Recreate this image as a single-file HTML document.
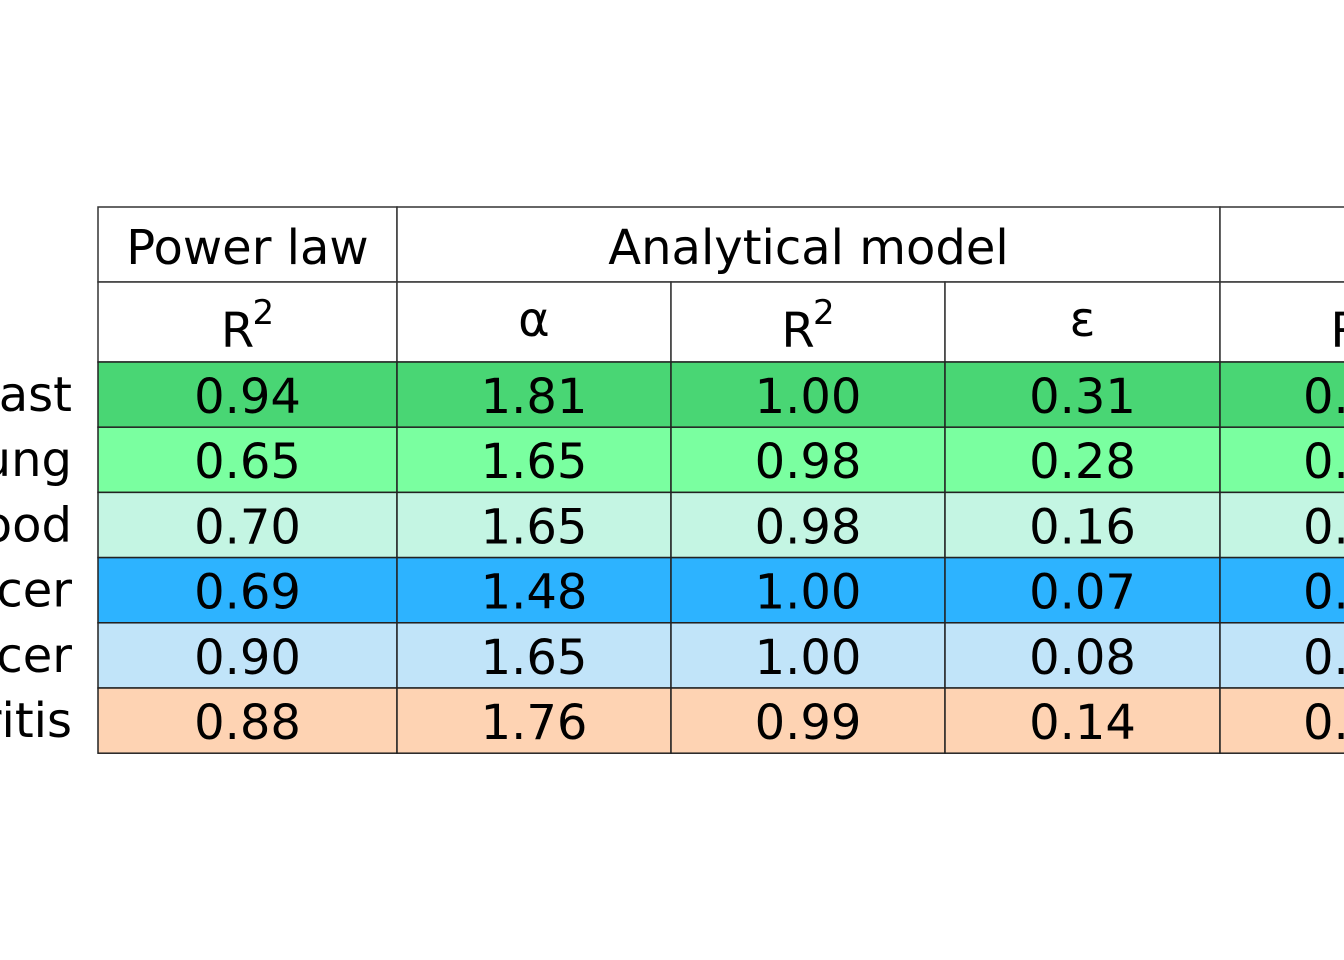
<!DOCTYPE html>
<html><head><meta charset="utf-8"><style>
html,body{margin:0;padding:0;background:#fff;width:1344px;height:960px;overflow:hidden}
svg text{font-family:"DejaVu Sans","Liberation Sans",sans-serif;fill:#000}
</style></head><body>
<svg id="tbl" width="1344" height="960" xmlns="http://www.w3.org/2000/svg"></svg>
<script>
const rowLabels=["Breast","Lung","Blood","Cancer","Cancer","Arthritis"];
const colHeaders=["R²","α","R²","ε","R²"];
const powerR2=["0.94","0.65","0.70","0.69","0.90","0.88"];
const alpha=["1.81","1.65","1.65","1.48","1.65","1.76"];
const modelR2=["1.00","0.98","0.98","1.00","1.00","0.99"];
const eps=["0.31","0.28","0.16","0.07","0.08","0.14"];
const lastCol=["0.","0.","0.","0.","0.","0."];
const rowColors=["#49d674","#7affa0","#c4f5e3","#2db3ff","#c1e4f9","#fed3b3"];
const svg=document.getElementById('tbl');
const NS="http://www.w3.org/2000/svg";
const colX=[98,397,671,945,1220,1494];
const headTop=207,head2=282,dataTop=362,rowH=65.2;
function mk(tag,attrs){const e=document.createElementNS(NS,tag);for(const k in attrs)e.setAttribute(k,attrs[k]);svg.appendChild(e);return e;}
function txt(x,y,s,anchor){const t=mk('text',{x:x,y:y,'font-size':48,'text-anchor':anchor||'middle'});t.textContent=s;return t;}
const h1=[[0,1,"Power law"],[1,4,"Analytical model"],[4,5,""]];
h1.forEach(h=>{
 const r=mk('rect',{x:colX[h[0]],y:headTop,width:colX[h[1]]-colX[h[0]],height:head2-headTop,fill:'#fff',stroke:'#333','stroke-width':1.5});
 
 
 if(h[2]){const t=txt((colX[h[0]]+colX[h[1]])/2,264,h[2]);
 
 }
});
colHeaders.forEach((c,i)=>{
 const r=mk('rect',{x:colX[i],y:head2,width:colX[i+1]-colX[i],height:dataTop-head2,fill:'#fff',stroke:'#333','stroke-width':1.5});
 
 
 const cx=(colX[i]+colX[i+1])/2;
 let t;
 if(c==="R²"){t=txt(cx-10,347,"R");const s=mk('text',{x:cx+5,y:324,'font-size':34,'text-anchor':'start'});s.textContent="2";}
 else t=txt(cx,336,c);
 
 
});
const cols=[powerR2,alpha,modelR2,eps,lastCol];
rowLabels.forEach((lab,r)=>{
 const y=dataTop+r*rowH;
 cols.forEach((col,i)=>{
  const rc=mk('rect',{x:colX[i],y:y,width:colX[i+1]-colX[i],height:rowH,fill:rowColors[r],stroke:'#222','stroke-width':1.5});
  
  
  const t=txt(i===4?1303:(colX[i]+colX[i+1])/2,y+51,col[r],i===4?'start':'middle');
  
  
 });
 const l=txt(72,y+49,lab,'end');
 
 
});
</script>
</body></html>
